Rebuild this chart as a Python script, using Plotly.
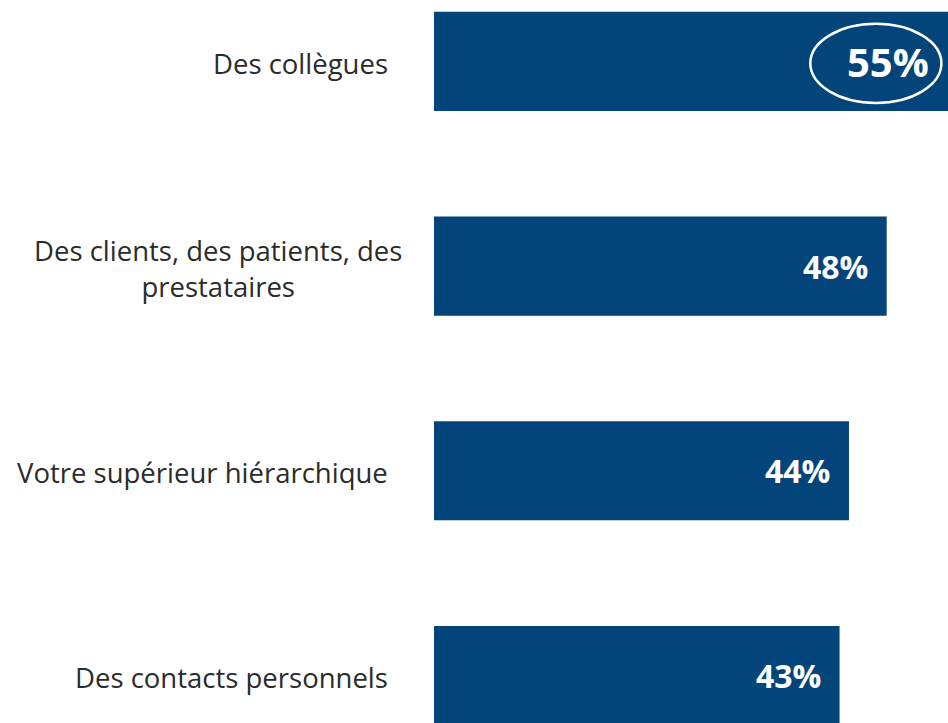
import plotly.graph_objects as go

categories = ["Des collègues", "Des clients, des patients, des<br>prestataires",
              "Votre supérieur hiérarchique", "Des contacts personnels"]
values = [55, 48, 44, 43]
value_labels = ["55%", "48%", "44%", "43%"]

BAR = "#03457a"
TXT = "#2b2b2b"
FONT = "Open Sans"

fig = go.Figure()
fig.add_trace(go.Bar(
    x=values, y=categories, orientation="h",
    marker=dict(color=BAR, line=dict(width=0)),
    width=0.484, hoverinfo="skip",
))

# category labels
for i, c in enumerate(categories):
    multi = "<br>" in c
    fig.add_annotation(
        x=0, y=c, xref="x", yref="y", text=c, showarrow=False,
        xanchor="right", yanchor="middle", align="center",
        xshift=-30 if multi else -44, yshift=-2,
        font=dict(family=FONT, size=27.5, color=TXT),
    )

# value labels (top one sits inside the highlight ellipse)
for i, (v, lab) in enumerate(zip(values, value_labels)):
    if i == 0:
        fig.add_annotation(
            x=v - 6.9, y=categories[i], xref="x", yref="y", text="<b>%s</b>" % lab,
            showarrow=False, xanchor="center", yanchor="middle",
            font=dict(family=FONT, size=40, color="white"),
        )
    else:
        fig.add_annotation(
            x=v, y=categories[i], xref="x", yref="y", text="<b>%s</b>" % lab,
            showarrow=False, xanchor="right", yanchor="middle", xshift=-17,
            font=dict(family=FONT, size=32, color="white"),
        )

# highlight ellipse around the top value
fig.add_shape(type="circle", xref="x", yref="y",
              x0=values[0] - 15.1, x1=values[0] - 1.2,
              y0=-0.184, y1=0.203,
              line=dict(color="white", width=2.5))

fig.update_layout(
    width=948, height=723,
    margin=dict(l=434, r=0, t=0, b=0),
    paper_bgcolor="white", plot_bgcolor="white",
    showlegend=False,
    xaxis=dict(range=[0, 54.5], visible=False, fixedrange=True),
    yaxis=dict(range=[3.232, -0.300], showticklabels=False, showgrid=False,
               zeroline=False, showline=False, fixedrange=True,
               categoryorder="array", categoryarray=categories),
)

fig.write_html("out.html", config={"displayModeBar": False},
               post_script="document.body.style.margin='0';document.body.style.overflow='hidden';")
